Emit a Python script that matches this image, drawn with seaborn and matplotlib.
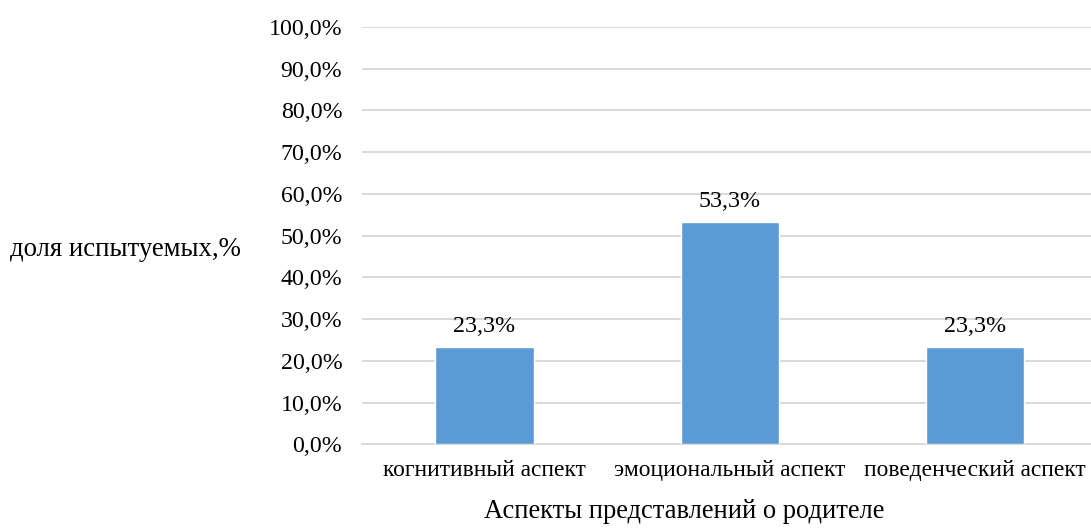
import matplotlib
matplotlib.use("Agg")
import matplotlib.pyplot as plt
import seaborn as sns
from matplotlib.ticker import FuncFormatter

sns.set_style("white")
plt.rcParams["font.family"] = ["Liberation Serif", "DejaVu Serif"]
plt.rcParams["text.color"] = "black"
plt.rcParams["xtick.color"] = "black"
plt.rcParams["ytick.color"] = "black"

aspects = ["когнитивный аспект", "эмоциональный аспект", "поведенческий аспект"]
shares = [23.3, 53.3, 23.3]
barLabels = ["23,3%", "53,3%", "23,3%"]

W, H = 1091, 528
fig = plt.figure(figsize=(W / 100, H / 100), dpi=100)

left, right = 361.75, 1098.0
top, bottom = 27.0, 444.3
ax = fig.add_axes([left / W, 1 - bottom / H, (right - left) / W, (bottom - top) / H])

sns.barplot(x=aspects, y=shares, color="#5B9BD5", width=0.4, saturation=1, ax=ax, zorder=3)

ax.set_ylim(0, 100)
ax.set_xlim(-0.5, 2.5)
ax.set_yticks(range(0, 101, 10))
ax.yaxis.set_major_formatter(FuncFormatter(lambda v, pos: f"{v:.1f}".replace(".", ",") + "%"))
ax.grid(axis="y", color="#D9D9D9", linewidth=1.4, zorder=0)
ax.set_axisbelow(True)
for side in ["top", "right", "left"]:
    ax.spines[side].set_visible(False)
ax.spines["bottom"].set_color("#D9D9D9")
ax.spines["bottom"].set_linewidth(1.4)
ax.tick_params(axis="y", length=0, pad=14, labelsize=17.2, labelcolor="black")
ax.tick_params(axis="x", length=0, pad=11, labelsize=16.9, labelcolor="black")
ax.set_xlabel("")
ax.set_ylabel("")

ax.bar_label(ax.containers[0], labels=barLabels, padding=7, fontsize=17.3, color="black")

fig.text(125 / W, 1 - 249 / H, "доля испытуемых,%", ha="center", va="center", fontsize=19.3, color="black")
fig.text(684 / W, 1 - 512 / H, "Аспекты представлений о родителе", ha="center", va="center", fontsize=19.1, color="black")

fig.savefig("out.png", dpi=100)
